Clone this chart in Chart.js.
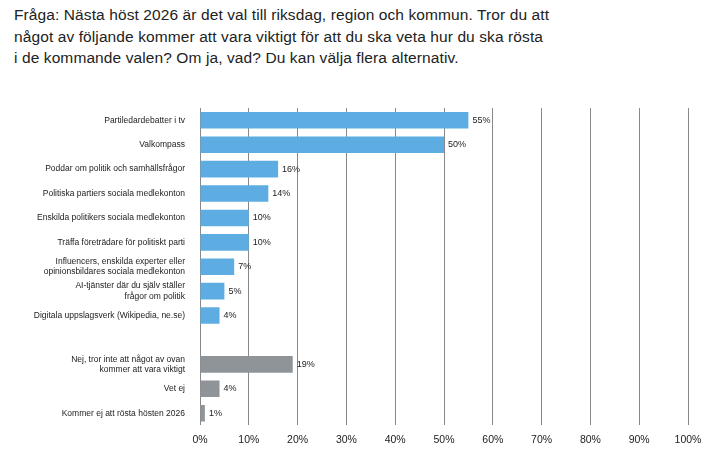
<!DOCTYPE html>
<html lang="sv">
<head>
<meta charset="UTF-8">
<title>Fråga: Nästa höst 2026</title>
<script src="https://cdn.jsdelivr.net/npm/chart.js@4.4.1/dist/chart.umd.min.js"></script>
<style>
  body { margin: 0; width: 728px; height: 458px; background: #fff; font-family: "Liberation Sans", Arial, sans-serif; overflow: hidden; }
  h1 { position: absolute; left: 14px; top: 4px; margin: 0; font-size: 15.5px; font-weight: normal; line-height: 21.5px; color: #222; letter-spacing: 0.1px; }
  .wrap { position: absolute; left: 0; top: 96px; width: 728px; height: 358px; }
</style>
</head>
<body>
<h1>Fråga: Nästa höst 2026 är det val till riksdag, region och kommun. Tror du att<br>något av följande kommer att vara viktigt för att du ska veta hur du ska rösta<br>i de kommande valen? Om ja, vad? Du kan välja flera alternativ.</h1>
<div class="wrap"><canvas id="chart"></canvas></div>
<script>
// Kategorier och värden (%)
const categories = [
  'Partiledardebatter i tv',
  'Valkompass',
  'Poddar om politik och samhällsfrågor',
  'Politiska partiers sociala medlekonton',
  'Enskilda politikers sociala medlekonton',
  'Träffa företrädare för politiskt parti',
  ['Influencers, enskilda experter eller', 'opinionsbildares sociala medlekonton'],
  ['AI-tjänster där du själv ställer', 'frågor om politik'],
  'Digitala uppslagsverk (Wikipedia, ne.se)',
  '',
  ['Nej, tror inte att något av ovan', 'kommer att vara viktigt'],
  'Vet ej',
  'Kommer ej att rösta hösten 2026'
];
const values = [55, 50, 16, 14, 10, 10, 7, 5, 4, null, 19, 4, 1];
const barColors = ['#5dade2','#5dade2','#5dade2','#5dade2','#5dade2','#5dade2','#5dade2','#5dade2','#5dade2','#5dade2','#8f9499','#8f9499','#8f9499'];
const xTicks = [0, 10, 20, 30, 40, 50, 60, 70, 80, 90, 100];

const valueLabels = {
  id: 'valueLabels',
  afterDatasetsDraw(chart) {
    const ctx = chart.ctx;
    const meta = chart.getDatasetMeta(0);
    ctx.save();
    ctx.font = '9px "Liberation Sans", Arial, sans-serif';
    ctx.fillStyle = '#222';
    ctx.textBaseline = 'middle';
    meta.data.forEach((bar, i) => {
      if (values[i] == null) return;
      ctx.fillText(values[i] + '%', bar.x + 4, bar.y);
    });
    ctx.restore();
  }
};

new Chart(document.getElementById('chart'), {
  type: 'bar',
  data: {
    labels: categories,
    datasets: [{ data: values, backgroundColor: barColors, barPercentage: 0.68, categoryPercentage: 1 }]
  },
  options: {
    indexAxis: 'y',
    responsive: true,
    maintainAspectRatio: false,
    animation: false,
    layout: { padding: { right: 40, top: 0, bottom: 0 } },
    plugins: { legend: { display: false }, tooltip: { enabled: false } },
    scales: {
      x: {
        min: 0, max: 100,
        afterBuildTicks(scale) { scale.ticks = xTicks.map(v => ({ value: v })); },
        grid: { color: '#888', lineWidth: 1, drawTicks: false },
        border: { display: false },
        ticks: { padding: 8, color: '#222', font: { size: 10.5, family: '"Liberation Sans", Arial, sans-serif' }, callback: v => v + '%' }
      },
      y: {
        afterFit(scale) { scale.width = 200; },
        grid: { display: false },
        border: { display: false },
        ticks: { padding: 7, color: '#222', font: { size: 8.5, family: '"Liberation Sans", Arial, sans-serif', lineHeight: 1.2 } }
      }
    }
  },
  plugins: [valueLabels]
});
</script>
</body>
</html>
